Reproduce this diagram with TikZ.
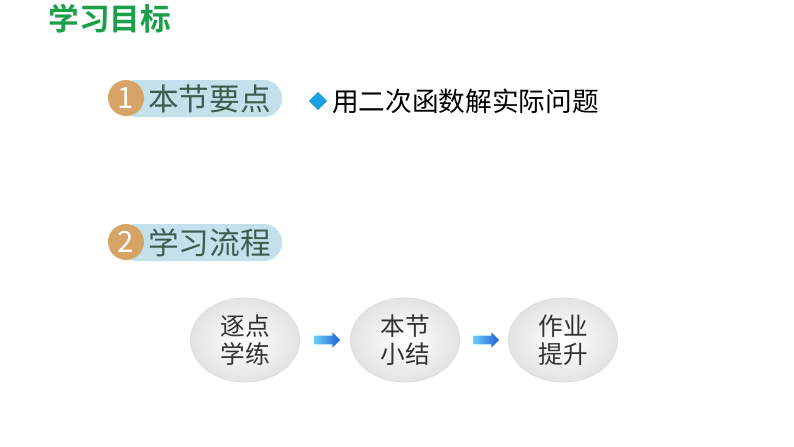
\documentclass[tikz,border=0pt]{standalone}
\usepackage{fontspec}
\setmainfont{Noto Sans CJK SC}[BoldFont={Noto Sans CJK SC Bold}]
\usetikzlibrary{shapes.geometric,shapes.arrows,calc}
\definecolor{titlegreen}{HTML}{1BA04A}
\definecolor{pillblue}{HTML}{C3E1EA}
\definecolor{badgetan}{HTML}{D5A466}
\definecolor{pilltext}{HTML}{3F5C52}
\definecolor{diamondblue}{HTML}{1BA1E2}
\definecolor{arrowlight}{HTML}{6CCFF6}
\definecolor{arrowdark}{HTML}{1F5FD6}
\begin{document}
\begin{tikzpicture}[x=0.75pt,y=-0.75pt,
  pill/.style={rounded corners=13.5pt,fill=pillblue,draw=none},
  badge/.style={circle,fill=badgetan,minimum size=27pt,inner sep=0pt,text=white,font=\fontsize{22pt}{22pt}\selectfont},
  pilllabel/.style={anchor=west,text=pilltext,font=\fontsize{23pt}{23pt}\selectfont,inner sep=0pt},
  bubble/.style={ellipse,minimum width=82pt,minimum height=60pt,draw=gray!30,inner color=white,outer color=gray!22,align=center,font=\fontsize{18.5pt}{21pt}\selectfont,text=black!80},
  flowarrow/.style={single arrow,minimum height=19.5pt,inner xsep=0pt,inner ysep=3pt,single arrow head extend=2.6pt,single arrow head indent=0pt,left color=arrowlight,right color=arrowdark,draw=none}]
\useasboundingbox (0,0) rectangle (794,447);
% title
\node[font=\fontsize{23pt}{23pt}\selectfont\bfseries,text=titlegreen] (title) at (110,19) {学习目标};
% section 1
\fill[pill] (118,80) rectangle (282,117);
\node[badge] (b1) at (126,98) {1};
\node[pilllabel] (l1) at (148,99) {本节要点};
\node[diamond,fill=diamondblue,minimum size=14pt,inner sep=0pt] (dia) at (318,101) {};
\node[anchor=west,font=\fontsize{20pt}{20pt}\selectfont,inner sep=0pt] (goal) at (332,101) {用二次函数解实际问题};
% section 2
\fill[pill] (118,224) rectangle (282,261);
\node[badge] (b2) at (126,242) {2};
\node[pilllabel] (l2) at (148,243) {学习流程};
% flow
\node[bubble] (s1) at (245,340) {逐点\\学练};
\node[bubble] (s2) at (405,340) {本节\\小结};
\node[bubble] (s3) at (563,340) {作业\\提升};
\node[flowarrow] (a1) at ($(s1.east)!0.5!(s2.west)$) {};
\node[flowarrow] (a2) at ($(s2.east)!0.5!(s3.west)$) {};
\end{tikzpicture}
\end{document}
